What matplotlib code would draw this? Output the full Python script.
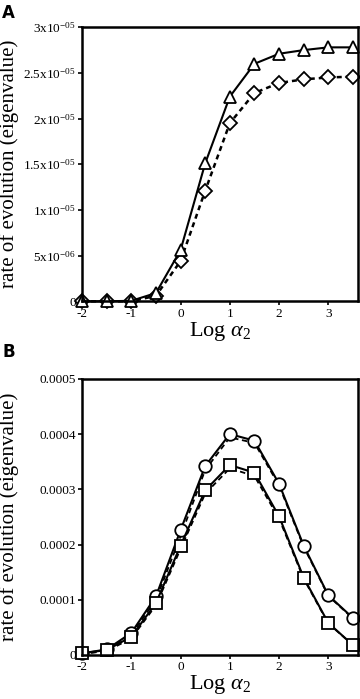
import matplotlib
matplotlib.use("Agg")
import matplotlib.pyplot as plt
import numpy as np

plt.rcParams.update({
    "font.family": "Liberation Serif",
    "mathtext.fontset": "custom",
    "mathtext.rm": "Liberation Serif",
    "mathtext.it": "Liberation Serif:italic",
    "mathtext.default": "regular",
    "axes.unicode_minus": False,
})

log_a2 = [-2, -1.5, -1, -0.5, 0, 0.5, 1, 1.5, 2, 2.5, 3, 3.5]

# panel A
tri_a = [0, 0, 0.05e-6, 0.9e-6, 5.6e-6, 15.1e-6, 22.4e-6, 26.0e-6, 27.1e-6, 27.5e-6, 27.8e-6, 27.8e-6]
dia_a = [0, 0, 0.0, 0.6e-6, 4.4e-6, 12.1e-6, 19.5e-6, 22.8e-6, 23.9e-6, 24.3e-6, 24.5e-6, 24.6e-6]
ytick_a = [0, 5e-6, 1e-5, 1.5e-5, 2e-5, 2.5e-5, 3e-5]
ylab_a = ["0", "5x10$^{-06}$", "1x10$^{-05}$", "1.5x10$^{-05}$", "2x10$^{-05}$",
          "2.5x10$^{-05}$", "3x10$^{-05}$"]

# panel B
circ_b = [0.03e-4, 0.1e-4, 0.4e-4, 1.06e-4, 2.26e-4, 3.42e-4, 4.0e-4, 3.88e-4, 3.10e-4, 1.98e-4, 1.08e-4, 0.67e-4]
circ_b2 = [0.02e-4, 0.08e-4, 0.37e-4, 1.0e-4, 2.15e-4, 3.35e-4, 3.94e-4, 3.84e-4, 3.07e-4, 1.96e-4, 1.07e-4, 0.66e-4]
sq_b = [0.03e-4, 0.09e-4, 0.33e-4, 0.94e-4, 1.98e-4, 2.98e-4, 3.44e-4, 3.30e-4, 2.51e-4, 1.40e-4, 0.58e-4, 0.18e-4]
sq_b2 = [0.02e-4, 0.07e-4, 0.30e-4, 0.90e-4, 1.92e-4, 2.92e-4, 3.38e-4, 3.24e-4, 2.47e-4, 1.38e-4, 0.57e-4, 0.18e-4]
ytick_b = [0, 0.0001, 0.0002, 0.0003, 0.0004, 0.0005]
ylab_b = ["0", "0.0001", "0.0002", "0.0003", "0.0004", "0.0005"]

xticks = [-2, -1, 0, 1, 2, 3]

fig = plt.figure(figsize=(3.6, 6.99), dpi=100)
ax_a = fig.add_axes([0.228, 0.569, 0.766, 0.392])
ax_b = fig.add_axes([0.228, 0.063, 0.766, 0.395])

mk = dict(markerfacecolor="white", markeredgecolor="black", markeredgewidth=1.3,
          color="black", clip_on=False)

ax_a.plot(log_a2, dia_a, linestyle=(0, (2, 1.6)), linewidth=1.8, marker="D", markersize=7, **mk)
ax_a.plot(log_a2, tri_a, linestyle="-", linewidth=1.5, marker="^", markersize=9, **mk)
ax_a.set_ylim(0, 3e-5)
ax_a.set_yticks(ytick_a)
ax_a.set_yticklabels(ylab_a)

# dashed companions under the solid curves
ax_b.plot(log_a2, circ_b2, linestyle=(0, (3, 2)), linewidth=1.3, color="black", clip_on=False)
ax_b.plot(log_a2, sq_b2, linestyle=(0, (3, 2)), linewidth=1.3, color="black", clip_on=False)
ax_b.plot(log_a2, circ_b, linestyle="-", linewidth=1.5, marker="o", markersize=9, **mk)
ax_b.plot(log_a2, sq_b, linestyle="-", linewidth=1.5, marker="s", markersize=8.5, **mk)
ax_b.set_ylim(0, 0.0005)
ax_b.set_yticks(ytick_b)
ax_b.set_yticklabels(ylab_b)

for ax in (ax_a, ax_b):
    ax.set_xlim(-2, 3.6)
    ax.set_xticks(xticks)
    ax.set_xticklabels([str(x) for x in xticks])
    for s in ax.spines.values():
        s.set_linewidth(1.8)
    ax.tick_params(axis="both", direction="out", length=3, width=1.2, labelsize=9.5, pad=1.5)
    ax.set_ylabel("rate of evolution (eigenvalue)", fontsize=15)
    ax.yaxis.set_label_coords(-0.228, 0.5)
    ax.set_xlabel(r"Log $\mathit{\alpha}_2$", fontsize=16, labelpad=0)

fig.text(0.006, 0.994, "A", fontsize=12, fontweight="bold", family="DejaVu Sans", va="top")
fig.text(0.006, 0.51, "B", fontsize=12, fontweight="bold", family="DejaVu Sans", va="top")

fig.savefig("out.png", dpi=100)
